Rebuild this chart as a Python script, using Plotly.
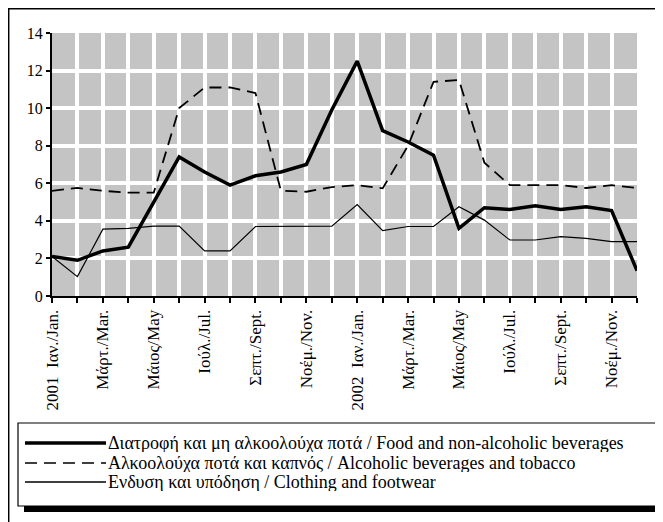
import plotly.graph_objects as go

# ---- data ----
months = list(range(24))  # Jan 2001 .. Dec 2002
tick_labels = ["2001  Ιαν./Jan.", "Μάρτ./Mar.", "Μάιος/May", "Ιούλ./Jul.", "Σεπτ./Sept.", "Νοέμ./Nov.",
               "2002  Ιαν./Jan.", "Μάρτ./Mar.", "Μάιος/May", "Ιούλ./Jul.", "Σεπτ./Sept.", "Νοέμ./Nov."]

food = [2.1, 1.9, 2.4, 2.6, 5.0, 7.4, 6.6, 5.9, 6.4, 6.6, 7.0, 9.9,
        12.5, 8.8, 8.2, 7.5, 3.6, 4.7, 4.6, 4.8, 4.6, 4.75, 4.55, 1.35]
alcohol = [5.6, 5.75, 5.6, 5.5, 5.5, 10.0, 11.1, 11.1, 10.8, 5.6, 5.55, 5.8,
           5.9, 5.73, 8.0, 11.4, 11.5, 7.1, 5.9, 5.9, 5.9, 5.75, 5.9, 5.75]
clothing = [2.1, 1.03, 3.56, 3.6, 3.72, 3.72, 2.4, 2.4, 3.7, 3.7, 3.72, 3.72,
            4.87, 3.48, 3.7, 3.7, 4.75, 4.04, 2.98, 2.98, 3.16, 3.07, 2.89, 2.89]

names = ["Διατροφή και μη αλκοολούχα ποτά / Food and non-alcoholic beverages",
         "Αλκοολούχα ποτά και καπνός / Alcoholic beverages and tobacco",
         "Ενδυση και υπόδηση / Clothing and footwear"]

OFF = 8  # page body margin
W, H = 663 - OFF, 522 - OFF
# plot area in page pixels
PL, PR, PT, PB = 52, 637, 33, 296
L, R, T, B = PL - OFF, PR - OFF, PT - OFF, PB - OFF
FONT = "Liberation Serif, Times New Roman, serif"


def px(xp):
    """page pixel x -> paper"""
    return (xp - PL) / (PR - PL)


def py(yp):
    """page pixel y -> paper"""
    return (PB - yp) / (PB - PT)


fig = go.Figure()
fig.add_trace(go.Scatter(x=months, y=food, mode="lines", name=names[0],
                         line=dict(color="black", width=3.5)))
fig.add_trace(go.Scatter(x=months, y=alcohol, mode="lines", name=names[1],
                         line=dict(color="black", width=1.8, dash="12px,7px")))
fig.add_trace(go.Scatter(x=months, y=clothing, mode="lines", name=names[2],
                         line=dict(color="black", width=1.2)))

shapes = []
# outer frame
shapes.append(dict(type="rect", xref="paper", yref="paper",
                   x0=px(8.7), x1=px(700), y0=py(8.7), y1=py(600),
                   line=dict(color="black", width=1.5), fillcolor="rgba(0,0,0,0)", layer="above"))
# legend shadow + box
shapes.append(dict(type="rect", xref="paper", yref="paper",
                   x0=px(24), x1=px(668), y0=py(429), y1=py(512),
                   line=dict(width=0), fillcolor="black", layer="above"))
shapes.append(dict(type="rect", xref="paper", yref="paper",
                   x0=px(18), x1=px(662), y0=py(423), y1=py(506),
                   line=dict(color="black", width=1.2), fillcolor="white", layer="above"))

annotations = []
leg_rows = [443, 463, 482]
leg_styles = [dict(width=3.5), dict(width=1.5, dash="12px,7px"), dict(width=1.5)]
for name, yrow, st in zip(names, leg_rows, leg_styles):
    shapes.append(dict(type="line", xref="paper", yref="paper",
                       x0=px(25), x1=px(106), y0=py(yrow), y1=py(yrow),
                       line=dict(color="black", **st), layer="above"))
    annotations.append(dict(xref="paper", yref="paper", x=px(107), y=py(yrow),
                            xanchor="left", yanchor="middle", showarrow=False,
                            height=18, borderpad=0, valign="middle",
                            text=name, font=dict(family=FONT, size=18, color="black")))

tickvals = months
ticktext = [tick_labels[i // 2] if i % 2 == 0 else "" for i in months]

fig.update_layout(
    width=W, height=H,
    margin=dict(l=L, r=W - R, t=T, b=H - B),
    paper_bgcolor="white",
    plot_bgcolor="#c4c4c4",
    showlegend=False,
    font=dict(family=FONT, size=14, color="black"),
    shapes=shapes,
    annotations=annotations,
    xaxis=dict(range=[0, 23], tickmode="array", tickvals=tickvals, ticktext=ticktext,
               tickangle=-90, ticks="outside", ticklen=5, tickwidth=1.5, tickcolor="black",
               showline=True, linecolor="black", linewidth=2,
               showgrid=True, gridcolor="white", gridwidth=3.5, zeroline=False,
               tickfont=dict(family=FONT, size=17, color="black")),
    yaxis=dict(range=[0, 14], tickmode="linear", tick0=0, dtick=2,
               ticks="outside", ticklen=4, tickwidth=1.5, tickcolor="black",
               showline=True, linecolor="black", linewidth=2,
               showgrid=True, gridcolor="white", gridwidth=3.5, zeroline=False,
               tickfont=dict(family=FONT, size=16, color="black")),
)

fig.write_html("out.html")
